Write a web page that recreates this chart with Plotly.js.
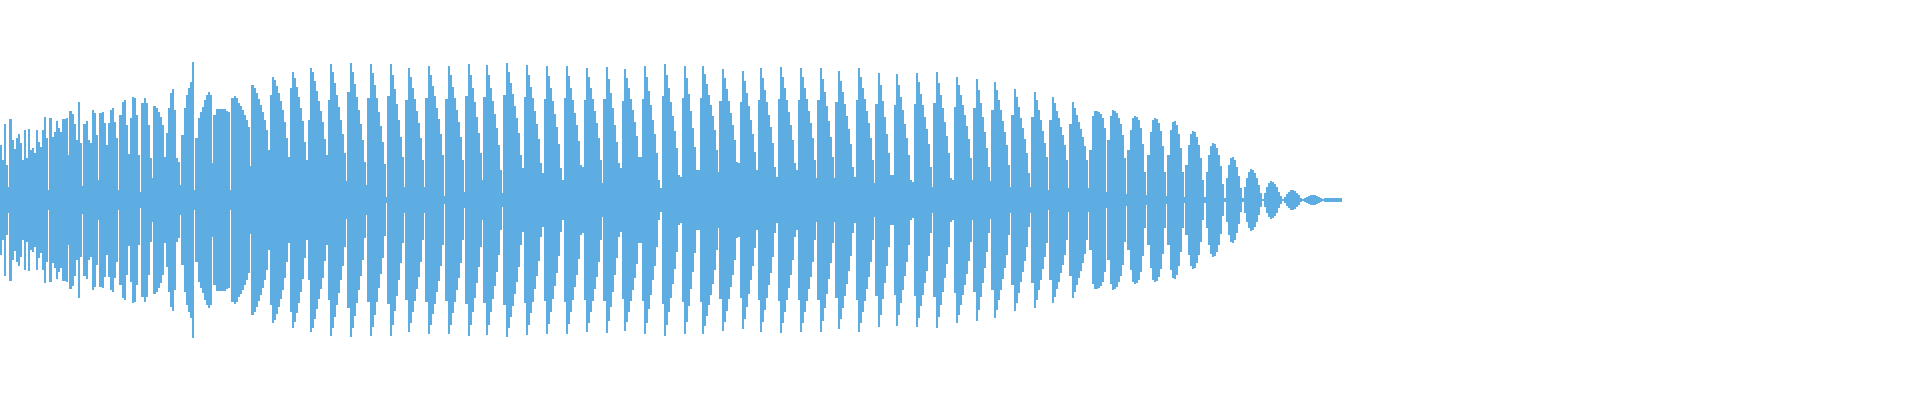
<!DOCTYPE html>
<html>
<head>
<meta charset="utf-8">
<script src="https://cdn.plot.ly/plotly-3.0.1.min.js"></script>
<style>
  html, body { margin: 0; padding: 0; background: #ffffff; }
  #chart { width: 1920px; height: 400px; }
</style>
</head>
<body>
<div id="chart"></div>
<script>
// Peak amplitude of each 2-pixel column of the waveform (symmetric about zero).
const attackAmps = [
  55,40,76,35,13,81,60,51,62,66,
  57,40,70,42,71,50,52,47,70,58,
  53,70,83,62,10,82,63,68,79,72,
  68,81,81,82,45,89,86,76,60,98,
  57,14,76,79,60,57,90,87,65,20,
  87,88,77,55,77,90,92,78,62,10,
  85,98,100,75,46,82,103,102,85,45,
  8,97,102,97,75,42,22,94,92,88,
  83,75,43,67,92,107,111,90,42,38,
  15,65,92,105,112,118,138,10,62,82,
  88,93,100,105,108,105,37,85,91,91,
  91,91,91,89,88,10,102,104,102,97,
  94,90,85,80,73
];
const sustainAmps = [
  34,115,112,107,101,95,88,80,70,
  50,105,123,120,114,107,99,90,78,62,
  43,112,128,122,113,103,92,79,58,
  40,80,132,128,119,109,99,89,78,61,
  45,100,136,128,117,105,93,80,66,47,
  19,108,137,128,116,103,90,76,60,38,
  15,102,136,127,115,102,88,74,58,36,
  3,104,136,125,111,96,80,63,43,
  13,100,132,123,112,101,89,77,62,40,
  13,102,134,125,114,104,92,81,66,45,
  4,101,134,125,113,102,90,78,63,40,
  8,104,136,125,112,98,83,67,47,
  20,103,135,125,112,99,86,72,55,30,
  7,105,137,128,117,106,94,82,67,45,
  32,103,135,125,113,102,89,76,61,37,
  27,101,134,124,112,99,86,73,56,32,
  20,102,134,124,112,100,87,75,59,35,
  33,100,132,123,112,101,89,77,62,40,
  17,101,133,121,107,92,75,58,37,
  32,99,131,122,112,101,90,78,64,43,
  43,101,134,123,109,95,80,66,47,20,
  12,104,136,125,112,98,84,69,52,25,
  23,102,134,122,106,89,72,53,30,
  30,102,134,126,116,105,95,84,70,50,
  28,99,131,122,111,99,87,75,60,38,
  37,98,129,119,107,94,80,66,48,
  30,100,132,122,110,98,85,73,57,33,
  23,101,133,123,112,100,88,75,60,37,
  30,100,132,123,112,101,89,77,62,40,
  22,100,132,121,108,94,79,63,43,
  22,98,129,119,108,96,84,71,56,33,
  23,100,132,123,112,101,89,77,62,40,
  17,96,127,115,99,83,66,47,25,
  25,95,126,115,103,90,76,62,45,20,
  18,96,127,118,106,95,83,71,56,33,
  13,97,128,117,105,92,78,64,47,22,
  20,93,123,115,105,95,85,74,61,42,
  20,92,121,110,97,83,68,52,33,
  19,90,118,110,100,90,79,68,55,35,
  13,85,111,103,93,82,72,61,47,27,
  13,83,108,100,90,80,69,57,43,
  10,80,103,97,89,82,73,65,55,40,
  12,76,98,92,85,78,71,63,54,40
];
const decayAmps = [
  12,50,84,89,89,88,86,82,72,
  8,60,84,90,89,87,82,76,65,42,
  6,50,70,82,84,83,80,72,56,28,
  5,45,68,80,82,81,77,69,54,28,
  4,45,70,78,79,75,66,52,28,
  3,35,55,66,69,68,63,55,42,20,
  3,28,45,54,57,56,52,45,34,16,
  2,22,35,42,43,40,33,24,12,
  2,13,22,28,31,30,27,22,15,7,
  1,7,13,17,19,18,16,13,8,4,
  1,3,6,8,10,10,9,7,5,2,
  1,2,3,4,5,5,5,4,3,2,
  1,2,2.5,2.5,2.5,2.5,2.5,2.5,2.5,2
];

const amps = attackAmps.concat(sustainAmps, decayAmps);
const n = amps.length;

// column edges (in column units); a deep dip between two lobes is drawn half-width
const left = amps.map((_, i) => i);
const right = amps.map((_, i) => i + 1);
for (let i = 1; i < n - 1; i++) {
  const v = amps[i];
  if (v < 0.6 * Math.min(amps[i - 1], amps[i + 1]) && amps[i - 1] > 20) {
    right[i] = i + 0.5;
    left[i + 1] = i + 0.5;
  }
}

const px = [], py = [];
for (let i = 0; i < n; i++) { px.push(left[i], right[i]); py.push(amps[i], amps[i]); }
for (let i = n - 1; i >= 0; i--) { px.push(right[i], left[i]); py.push(-amps[i], -amps[i]); }

const trace = {
  type: 'scatter',
  mode: 'lines',
  x: px,
  y: py,
  fill: 'toself',
  fillcolor: '#5DADE2',
  line: { width: 0, color: '#5DADE2' },
  hoverinfo: 'skip'
};

const layout = {
  width: 1920,
  height: 400,
  margin: { l: 0, r: 0, t: 0, b: 0, pad: 0 },
  paper_bgcolor: '#ffffff',
  plot_bgcolor: '#ffffff',
  showlegend: false,
  xaxis: { range: [0, 960], visible: false, fixedrange: true },
  yaxis: { range: [-200, 200], visible: false, fixedrange: true }
};

Plotly.newPlot('chart', [trace], layout, { staticPlot: true, displayModeBar: false });
</script>
</body>
</html>
